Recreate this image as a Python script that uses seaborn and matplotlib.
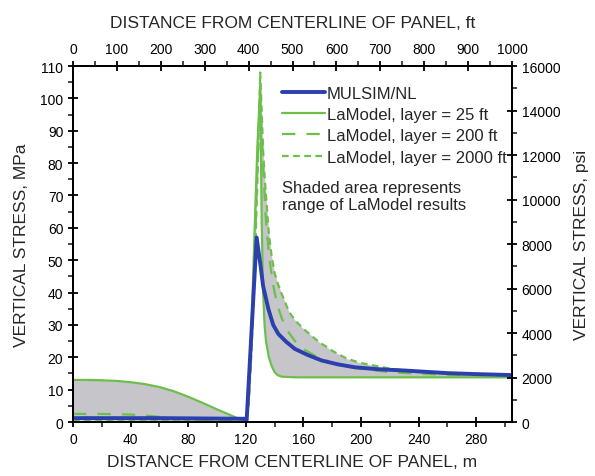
import numpy as np
import pandas as pd
import matplotlib
matplotlib.use("Agg")
import matplotlib.pyplot as plt
from matplotlib.ticker import MultipleLocator
import seaborn as sns

# distance from centerline (m) shared by the LaModel curves
x_lam = [0, 10, 20, 30, 40, 50, 60, 70, 80, 90, 100, 110, 120,
         122, 124, 126, 128, 130,
         131, 132, 133, 134, 136, 138, 140, 142, 145, 150,
         155, 160, 170, 180, 190, 200, 220, 240, 260, 280, 304.8]
lam_25 = [13.0, 13.0, 12.9, 12.7, 12.3, 11.7, 10.8, 9.5, 7.8, 5.9, 3.9, 2.0, 0.0,
          8, 30, 58, 85, 104,
          62, 40, 30, 25, 20, 17.2, 15.4, 14.5, 14.0, 13.9,
          13.8, 13.8, 13.8, 13.8, 13.8, 13.8, 13.8, 13.8, 13.8, 13.8, 13.8]
lam_200 = [2.5, 2.5, 2.5, 2.4, 2.3, 2.0, 1.6, 1.2, 0.9, 0.6, 0.4, 0.2, 0.0,
           6, 25, 50, 78, 100,
           90, 80, 70, 62, 52, 45, 40, 36, 32, 27.5,
           24.5, 22.5, 20.0, 18.3, 17.2, 16.4, 15.4, 14.9, 14.6, 14.4, 14.3]
lam_2000 = [0.6, 0.6, 0.6, 0.55, 0.5, 0.45, 0.4, 0.35, 0.3, 0.25, 0.2, 0.1, 0.0,
            5, 22, 46, 74, 108,
            96, 84, 76, 70, 58, 51, 46, 43, 39.5, 34,
            31, 28.8, 25, 22, 19.6, 18.2, 16.5, 15.4, 14.9, 14.6, 14.4]

# MULSIM/NL
x_mul = [0, 60, 119, 120.5, 127.5, 130, 132, 135.6, 139, 142.6, 148, 154, 163,
         172.7, 184, 195.8, 212, 230.6, 260, 280, 304.8]
mulsim = [1.2, 1.2, 1.0, 0.0, 57, 49, 42, 35, 30, 27.2, 24.8, 22.6, 20.7,
          19.0, 17.8, 16.9, 16.3, 15.9, 15.1, 14.8, 14.5]

blue = "#2b3fae"
green = "#6cbf4a"

sns.set_style("ticks")
plt.rcParams['font.family'] = ['Liberation Sans', 'DejaVu Sans']

fig = plt.figure(figsize=(5.95, 4.77), dpi=100)
ax = fig.add_axes([0.1227, 0.1132, 0.7378, 0.7463])

lam = pd.DataFrame({"x": x_lam, "l25": lam_25, "l200": lam_200, "l2000": lam_2000})
lo = lam[["l25", "l200", "l2000"]].min(axis=1)
hi = lam[["l25", "l200", "l2000"]].max(axis=1)
ax.fill_between(lam.x, lo, hi, color="#c6c6ca", lw=0, zorder=1)

sns.lineplot(x=x_lam, y=lam_25, ax=ax, color=green, lw=1.6, sort=False,
             label="LaModel, layer = 25 ft", zorder=3)
sns.lineplot(x=x_lam, y=lam_200, ax=ax, color=green, lw=1.6, sort=False,
             label="LaModel, layer = 200 ft", zorder=3)
sns.lineplot(x=x_lam, y=lam_2000, ax=ax, color=green, lw=1.6, sort=False,
             label="LaModel, layer = 2000 ft", zorder=3)
sns.lineplot(x=x_mul, y=mulsim, ax=ax, color=blue, lw=2.8, sort=False,
             label="MULSIM/NL", zorder=4)
lines = ax.get_lines()
lines[1].set_dashes([6, 5])
lines[2].set_dashes([3, 2])

ax.set_xlim(0, 304.8)
ax.set_ylim(0, 110)
ax.xaxis.set_major_locator(MultipleLocator(40))
ax.xaxis.set_minor_locator(MultipleLocator(20))
ax.yaxis.set_major_locator(MultipleLocator(10))
ax.yaxis.set_minor_locator(MultipleLocator(5))
ax.set_xlabel("DISTANCE FROM CENTERLINE OF PANEL, m", fontsize=12.5, labelpad=6)
ax.set_ylabel("VERTICAL STRESS, MPa", fontsize=12.5, labelpad=8)

# top axis in feet
axt = ax.twiny()
axt.set_xlim(0, 1000)
axt.xaxis.set_major_locator(MultipleLocator(100))
axt.xaxis.set_minor_locator(MultipleLocator(50))
axt.set_xlabel("DISTANCE FROM CENTERLINE OF PANEL, ft", fontsize=12.5, labelpad=11)

# right axis in psi
axr = ax.twinx()
axr.set_ylim(0, 16000)
axr.yaxis.set_major_locator(MultipleLocator(2000))
axr.yaxis.set_minor_locator(MultipleLocator(1000))
axr.set_ylabel("VERTICAL STRESS, psi", fontsize=12.5, labelpad=10)

for a in (ax, axt, axr):
    for s in a.spines.values():
        s.set_linewidth(1.4)
        s.set_color("black")
    a.tick_params(which="major", direction="inout", length=7, width=1.3,
                  labelsize=10, colors="black")
    a.tick_params(which="minor", direction="out", length=3.5, width=1.2)

h, l = ax.get_legend_handles_labels()
order = [3, 0, 1, 2]
ax.legend([h[i] for i in order], [l[i] for i in order], loc="upper left",
          bbox_to_anchor=(0.476, 0.945), frameon=False, fontsize=12,
          handlelength=2.6, handletextpad=0.1, borderpad=0, borderaxespad=0,
          labelspacing=0.38)
ax.text(0.476, 0.68, "Shaded area represents\nrange of LaModel results",
        transform=ax.transAxes, fontsize=12, va="top", ha="left",
        linespacing=1.2)

fig.savefig("out.png", dpi=100)
